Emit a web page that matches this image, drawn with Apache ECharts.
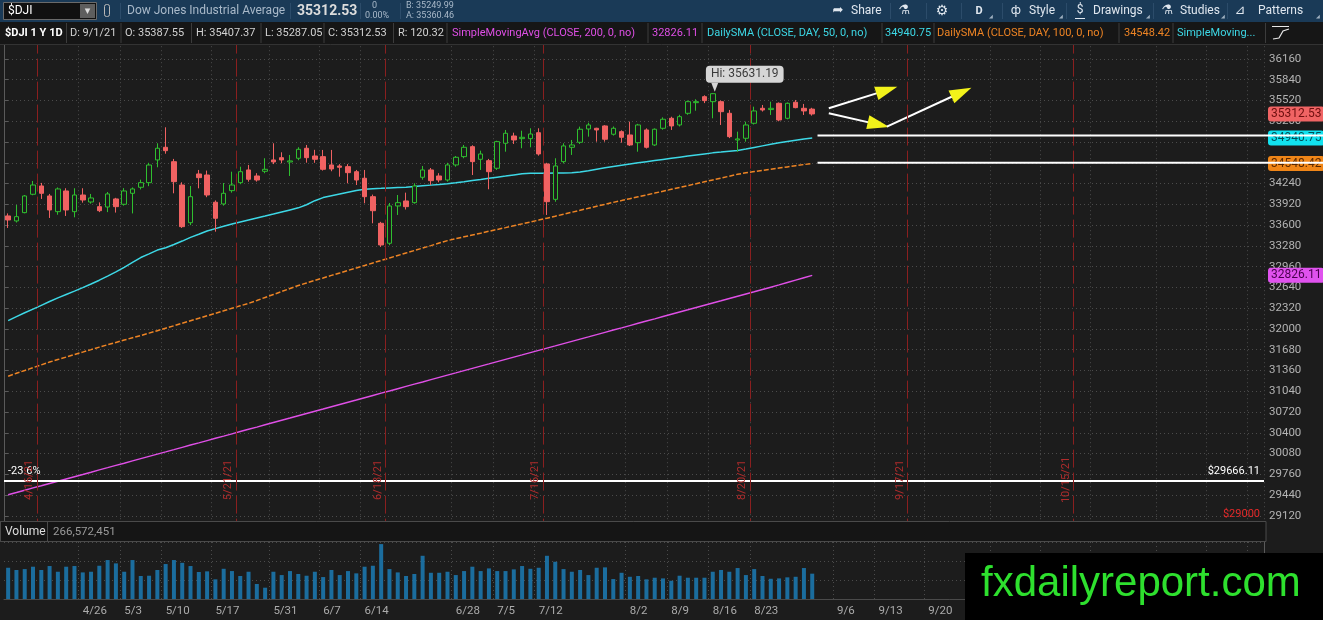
<!DOCTYPE html>
<html><head><meta charset="utf-8">
<script src="https://cdn.jsdelivr.net/npm/echarts/dist/echarts.min.js"></script>
<style>html,body{margin:0;padding:0;background:#1c1c1c;overflow:hidden}#c{width:1323px;height:620px}</style>
</head><body><div id="c"></div>
<script>
// ---------- DATA ----------
const dates = ['4/13','4/14','4/15','4/16','4/19','4/20','4/21','4/22','4/23','4/26','4/27','4/28','4/29','4/30',
'5/3','5/4','5/5','5/6','5/7','5/10','5/11','5/12','5/13','5/17','5/18','5/19','5/20','5/21','5/24','5/25','5/26','5/27',
'6/1','6/2','6/3','6/4','6/7','6/8','6/9','6/10','6/11','6/14','6/15','6/16','6/17','6/18','6/21','6/22','6/23','6/24','6/25',
'6/28','6/29','6/30','7/1','7/2','7/6','7/7','7/8','7/9','7/12','7/13','7/14','7/15','7/16','7/19','7/20','7/21','7/22','7/23',
'7/26','7/27','7/28','7/29','7/30','8/2','8/3','8/4','8/5','8/6','8/9','8/10','8/11','8/12','8/13','8/16','8/17','8/18','8/19','8/20',
'8/23','8/24','8/25','8/26','8/27','8/30','8/31','9/1'];
const futureDates = ['9/2','9/3','9/7','9/8','9/9','9/10','9/13','9/14','9/15','9/16','9/17','9/20','9/21','9/22','9/23','9/24',
'9/27','9/28','9/29','9/30','10/1','10/4','10/5','10/6','10/7','10/8','10/11','10/12','10/13','10/14','10/15','10/18','10/19','10/20',
'10/21','10/22','10/25','10/26','10/27','10/28','10/29','11/1','11/2','11/3','11/4','11/5','11/8','11/9','11/10','11/11','11/12',
'11/15','11/16','11/17'];
const opens = [33741,33664,33792,34075,34203,34049,33807,34126,33807,34064,
33956,33884,33879,34003,33921,34090,34183,34254,34604,34799,
34577,34218,33637,34388,34372,33952,33926,34131,34254,34450,
34357,34429,34604,34639,34573,34630,34784,34665,34655,34527,
34511,34501,34423,34322,34038,33628,33320,33895,33972,33946,
34337,34450,34357,34295,34527,34655,34809,34614,34593,34476,
34861,34973,34932,34932,35024,34542,33997,34578,34799,34876,
35081,35092,35128,35000,35040,34989,34870,35066,34835,35092,
35246,35143,35323,35487,35579,35502,35502,35323,34912,34938,
35169,35400,35380,35477,35246,35493,35400,35387.55];
const closes = [33679,33730,34049,34218,34090,33833,34157,33833,34064,33987,
34018,33822,34080,33884,34126,34157,34254,34526,34784,34747,
34269,33576,34038,34331,34064,33705,34090,34218,34423,34306,
34295,34460,34573,34604,34589,34768,34639,34614,34460,34465,
34491,34408,34295,34038,33822,33294,33895,33946,33884,34203,
34450,34285,34295,34527,34645,34799,34578,34696,34423,34886,
35015,34912,34953,35004,34696,33961,34511,34820,34835,35077,
35143,35066,34923,35092,34953,34835,35143,34799,35077,35231,
35128,35271,35502,35502,35518,35625,35348,34963,34928,35143,
35359,35374,35400,35220,35477,35410,35359,35312.53];
const lows = [33556,33640,33782,34060,34003,33710,33760,33741,33720,33946,
33930,33800,33800,33793,33900,33780,34150,34200,34491,34700,
34090,33556,33600,34167,34030,33499,33900,34100,34230,34269,
34270,34399,34540,34553,34357,34600,34562,34560,34440,34430,
34346,34244,34218,33936,33628,33263,33290,33756,33840,33930,
34300,34218,34260,34270,34500,34630,34372,34450,34152,34450,
34731,34850,34784,34799,34670,33756,33960,34550,34681,34850,
34963,34886,34886,34980,34870,34819,34731,34780,34820,35070,
35066,35120,35300,35363,35480,35246,35143,34940,34731,34886,
35150,35350,35297,35200,35230,35400,35297,35287.05];
const highs = [33780,33910,34064,34280,34250,34080,34180,34168,34168,34168,
34080,33950,34110,34020,34170,34180,34300,34560,34861,35107,
34620,34260,34203,34450,34440,33980,34249,34423,34500,34527,
34400,34630,34861,34722,34681,34800,34835,34760,34758,34758,
34540,34540,34450,34450,34070,33650,33941,34064,34100,34244,
34511,34480,34400,34560,34665,34835,34830,34747,34620,34900,
35066,35024,35055,35092,35092,34560,34630,34861,34912,35117,
35178,35100,35140,35120,35060,35194,35160,35090,35090,35260,
35270,35300,35520,35539,35600,35631.19,35520,35374,35040,35194,
35425,35451,35502,35490,35490,35528,35467,35407.37];
// volume in millions of shares
const volumes = [329,305,315,340,305,347,287,340,347,280,
287,350,410,375,287,410,242,245,305,368,
410,381,347,284,291,207,318,294,242,287,
158,119,287,252,294,263,245,287,231,305,
252,294,270,340,350,578,315,280,242,263,
455,276,276,287,252,294,340,294,322,294,
294,312,347,318,329,455,392,315,287,305,
252,329,333,210,276,234,242,207,224,217,
192,245,224,224,224,287,305,287,326,252,
315,242,213,217,228,234,326,266.572451];
const sma50 = [32128,32190,32249,32306,32364,32422,32478,32531,32582,32636,
32693,32751,32814,32879,32950,33026,33100,33157,33215,33252,
33302,33354,33411,33458,33510,33546,33582,33617,33649,33679,
33709,33739,33770,33802,33834,33866,33913,33976,34024,34051,
34078,34105,34132,34154,34160,34166,34173,34179,34185,34194,
34205,34216,34226,34237,34251,34268,34286,34303,34321,34338,
34355,34373,34390,34399,34399,34400,34402,34404,34407,34418,
34439,34461,34482,34503,34523,34541,34559,34577,34595,34612,
34629,34646,34663,34680,34697,34713,34725,34738,34751,34771,
34796,34821,34846,34868,34887,34906,34925,34940.75];
const sma100 = [31272,31316,31359,31403,31446,31490,31528,31566,31605,31643,
31681,31720,31756,31792,31828,31864,31899,31935,31973,32011,
32049,32088,32126,32164,32203,32241,32279,32318,32356,32394,
32439,32485,32531,32577,32623,32669,32709,32748,32786,32825,
32863,32902,32940,32978,33017,33055,33093,33132,33170,33208,
33246,33284,33323,33361,33391,33420,33448,33476,33505,33533,
33561,33590,33619,33648,33677,33707,33737,33768,33798,33829,
33859,33890,33920,33950,33978,34007,34036,34065,34093,34122,
34151,34180,34209,34238,34267,34296,34325,34354,34383,34407,
34425,34443,34461,34479,34497,34515,34533,34548.42];
const sma200 = [29445,29479,29514,29550,29584,29619,29653,29688,29723,29757,
29792,29828,29862,29897,29931,29966,30001,30036,30071,30105,
30140,30176,30211,30245,30280,30315,30349,30384,30419,30454,
30488,30523,30558,30593,30627,30662,30697,30732,30766,30801,
30836,30871,30905,30940,30975,31010,31044,31079,31114,31149,
31183,31218,31253,31288,31322,31357,31392,31427,31461,31496,
31531,31566,31600,31635,31670,31705,31739,31774,31809,31844,
31878,31913,31948,31983,32017,32052,32087,32122,32156,32191,
32226,32261,32295,32330,32365,32400,32434,32469,32504,32539,
32573,32608,32643,32678,32715,32752,32789,32826.11];
const yMin = 28800, yMax = 36480, yStep = 320;
const xTickLabels = ['4/26','5/3','5/10','5/17','5/31','6/7','6/14','6/28','7/5','7/12','8/2','8/9','8/16','8/23','9/6','9/13','9/20','10/4','10/11','10/18','11/1','11/8','11/15'];
const xTickDates  = ['4/26','5/3','5/10','5/19','6/1','6/9','6/16','7/1','7/9','7/16','8/2','8/9','8/16','8/23','9/7','9/14','9/22','10/4','10/12','10/20','11/1','11/9','11/16'];
const expiryDates = ['4/16','5/21','6/18','7/16','8/20','9/17','10/15'];
const expiryLabelBand = [29380, 29965];
const fibLevel = 29666.11, fibText = '-23.6%', fibLow = 29000;
const supportLevels = [34980, 34560];
const supportFrom = '9/2';
const arrows = [
  {from:['9/3',35400], to:['9/15',35680]},
  {from:['9/3',35323], to:['9/14',35148]},
  {from:['9/15',35117], to:['9/28',35647]}
];
const bid = 35249.99, ask = 35360.46;

// ---------- BUILD ----------
const cats = dates.concat(futureDates);
const N = cats.length;
const last = dates.length - 1;
const ohlc = dates.map((d,i)=>[opens[i],closes[i],lows[i],highs[i]]);
const tickSet = new Set(xTickDates);
const labelOf = {}; xTickDates.forEach((d,i)=>labelOf[d]=xTickLabels[i]);
const isTick = (i, v) => tickSet.has(v);
const dotted = {color:'#4b4b4b', type:[1,3], width:1};
const hiVal = Math.max(...highs), hiDate = dates[highs.indexOf(hiVal)];
const F = 'Roboto';
const C_MAG = '#df4fe6', C_CYAN = '#3dd8e6', C_ORG = '#ee8424', C_RED = '#f06262', C_GRN = '#2fbf2f';

function flag(v, bg, fg) {
  return {yAxis: v, symbol:'none', lineStyle:{width:0},
    label:{show:true, position:'end', distance:4, formatter: v.toFixed(2), backgroundColor:bg, color:fg,
      padding:[2,3,1,3], borderRadius:3, fontSize:12, fontFamily:F}};
}

const arrowItems = [];
arrows.forEach(a => {
  arrowItems.push([{coord:a.from, symbol:'none', lineStyle:{color:'#ffffff', width:2, type:'solid'}}, {coord:a.to, symbol:'none'}]);
  arrowItems.push([{coord:a.from, symbol:'none', lineStyle:{color:'#f2f21a', width:0}}, {coord:a.to, symbol:'triangle', symbolSize:[14,22]}]);
});

const expiryItems = [];
expiryDates.forEach(d => {
  const b = cats.indexOf(d) + 1;
  expiryItems.push({xAxis: b, lineStyle:{color:'#8a1f1f', width:1, type:[18,5]}});
  expiryItems.push([{coord:[b, expiryLabelBand[0]], lineStyle:{width:0},
      label:{show:true, position:'insideMiddleTop', distance:2, formatter: d + '/21', color:'#b02c2c', fontSize:11, fontFamily:F}},
    {coord:[b, expiryLabelBand[1]]}]);
});

// ---------- GRAPHIC (toolbars, panels) ----------
const G = [];
const T = (x,y,text,fill,font,align) => G.push({type:'text', z:101, x, y, style:{text, fill, font: font || '11px Roboto', textAlign: align||'left', textVerticalAlign:'middle'}});
const L = (x1,y1,x2,y2,stroke,w) => G.push({type:'line', z:101, shape:{x1,y1,x2,y2}, style:{stroke, lineWidth:w||1}});
const R = (x,y,w,h,fill,stroke,r) => G.push({type:'rect', z:100, shape:{x,y,width:w,height:h,r:r||0}, style:{fill:fill||'none', stroke:stroke||null, lineWidth:1}});

// row 1
R(0,0,1323,22,'#1a3a57');
R(3.5,2.5,93,17,'#111','#6a6a6a');
T(8,11,'$DJI','#ffffff','12px Roboto');
R(80,4,15,14,'#5e5e5e');
T(87.5,11,'▾','#dddddd','11px "DejaVu Sans"','center');
R(104.5,4.5,5,12,null,'#b8b8b8',2);
T(127,11,'Dow Jones Industrial Average','#a9b9c9','12px Roboto');
[120,290,360,400].forEach(x=>L(x+0.5,3,x+0.5,19,'#2c4c6a'));
T(297,11,closes[last].toFixed(2),'#dcdcdc','bold 14px Roboto');
T(372,6,'0','#a9b9c9','9px Roboto');
T(365,16,'0.00%','#a9b9c9','9px Roboto');
T(406,6,'B: '+bid.toFixed(2),'#a9b9c9','9px Roboto');
T(406,16,'A: '+ask.toFixed(2),'#a9b9c9','9px Roboto');
[890,926,961,1002,1066,1153,1227].forEach(x=>L(x+0.5,3,x+0.5,19,'#2c4c6a'));
T(838,11,'➦','#e0e7ef','13px "DejaVu Sans"','center');
T(851,11,'Share','#e0e7ef','12px Roboto');
T(904,11,'⚗','#e0e7ef','13px "DejaVu Sans"','center');
T(942,11,'⚙','#e0e7ef','14px "DejaVu Sans"','center');
T(979,11,'D','#e0e7ef','bold 11px Roboto','center');
T(1016,11,'ф','#e0e7ef','12px "DejaVu Sans"','center');
T(1029,11,'Style','#e0e7ef','12px Roboto');
T(1080,10,'$','#e0e7ef','12px Roboto','center');
L(1075,18.5,1085,18.5,'#e0e7ef');
T(1093,11,'Drawings','#e0e7ef','12px Roboto');
T(1167,11,'⚗','#e0e7ef','13px "DejaVu Sans"','center');
T(1180,11,'Studies','#e0e7ef','12px Roboto');
T(1240,11,'⊿','#e0e7ef','13px "DejaVu Sans"','center');
T(1258,11,'Patterns','#e0e7ef','12px Roboto');
[991,1061,1148,1223,1318].forEach(x=>T(x,17,'◢','#9fb0c0','5px "DejaVu Sans"','center'));

// row 2
R(0,22,1323,22,'#161616');
L(0,44.5,1323,44.5,'#333333');
[66.5,121,191.5,261,324,393.5,447,648,702,882,934,1119,1173,1265.5].forEach(x=>L(x,23,x,43,'#3c3c3c'));
T(5,33,'$DJI 1 Y 1D','#ffffff','bold 11px Roboto');
T(70,33,'D: 9/1/21','#d2d2d2');
T(125,33,'O: '+opens[last].toFixed(2),'#d2d2d2');
T(196,33,'H: '+highs[last].toFixed(2),'#d2d2d2');
T(265,33,'L: '+lows[last].toFixed(2),'#d2d2d2');
T(328,33,'C: '+closes[last].toFixed(2),'#d2d2d2');
T(398,33,'R: '+(highs[last]-lows[last]).toFixed(2),'#d2d2d2');
T(452,33,'SimpleMovingAvg (CLOSE, 200, 0, no)',C_MAG);
T(652,33,sma200[last].toFixed(2),C_MAG);
T(707,33,'DailySMA (CLOSE, DAY, 50, 0, no)',C_CYAN);
T(885,33,sma50[last].toFixed(2),C_CYAN);
T(937,33,'DailySMA (CLOSE, DAY, 100, 0, no)',C_ORG);
T(1124,33,sma100[last].toFixed(2),C_ORG);
T(1177,33,'SimpleMoving...',C_CYAN);
L(1272,26.5,1289,26.5,'#e8e8e8');
G.push({type:'polyline', z:101, shape:{points:[[1273,39],[1279,38],[1283,31],[1289,29]]}, style:{stroke:'#e8e8e8', lineWidth:1.2, fill:'none'}});

// volume header
R(0,521,1323,21,'#1c1c1c');
R(0.5,521.5,1265.5,20,'#151515','#4a4a4a');
R(0.5,521.5,47,20,null,'#4a4a4a');
T(5,532,'Volume','#dddddd','12px Roboto');
T(53,532,Math.round(volumes[last]*1e6).toLocaleString('en-US'),'#9a9a9a','11.5px Roboto');

// watermark
R(965,553,358,67,'#000000');
T(981,584,'fxdailyreport.com','#2ee02e','42px "Liberation Sans"');

// ---------- OPTION ----------
const option = {
  backgroundColor:'#1c1c1c',
  animation:false,
  grid:[
    {left:4, top:38.2, width:1260, height:498.4, outerBoundsMode:'none'},
    {left:4, top:542, width:1260, height:57, outerBoundsMode:'none'}
  ],
  xAxis:[
    {type:'category', gridIndex:0, data:cats, boundaryGap:true,
      axisLine:{show:false}, axisTick:{show:false}, axisLabel:{show:false},
      splitLine:{show:true, interval:isTick, lineStyle:dotted}},
    {type:'value', gridIndex:0, min:0, max:N, show:false, splitLine:{show:false}},
    {type:'category', gridIndex:1, data:cats, boundaryGap:true,
      axisLine:{show:true, lineStyle:{color:'#4a4a4a'}}, axisTick:{show:false},
      axisLabel:{interval:isTick, formatter:v=>labelOf[v]||'', color:'#ababab', fontSize:11.5, fontFamily:F, align:'left', margin:6},
      splitLine:{show:true, interval:isTick, lineStyle:dotted}}
  ],
  yAxis:[
    {type:'value', gridIndex:0, position:'right', min:yMin, max:yMax, interval:yStep,
      axisLine:{show:true, lineStyle:{color:'#5a5a5a'}}, axisTick:{show:true, length:4, lineStyle:{color:'#5a5a5a'}},
      axisLabel:{color:'#b3b3b3', fontSize:11.5, fontFamily:F, margin:5, formatter:v=> v < 29000 ? '' : String(v)},
      splitLine:{show:true, lineStyle:dotted}},
    {type:'value', gridIndex:1, position:'right', min:0, max:600, interval:200,
      axisLine:{show:true, lineStyle:{color:'#5a5a5a'}}, axisTick:{show:false}, axisLabel:{show:false},
      splitLine:{show:true, lineStyle:dotted}}
  ],
  series:[
    {type:'line', name:'SMA200', xAxisIndex:0, yAxisIndex:0, data:sma200, showSymbol:false, symbol:'none',
      lineStyle:{color:C_MAG, width:1.4}, z:3,
      markLine:{silent:true, symbol:'none', data:[flag(sma200[last], '#e052ee', '#4a004f')]}},
    {type:'line', name:'SMA100', xAxisIndex:0, yAxisIndex:0, data:sma100, showSymbol:false, symbol:'none',
      lineStyle:{color:C_ORG, width:1.5, type:[5,2]}, z:3,
      markLine:{silent:true, symbol:'none', data:[flag(sma100[last], '#f08618', '#5a2800')]}},
    {type:'line', name:'SMA50', xAxisIndex:0, yAxisIndex:0, data:sma50, showSymbol:false, symbol:'none',
      lineStyle:{color:C_CYAN, width:1.5}, z:3,
      markLine:{silent:true, symbol:'none', data:[flag(sma50[last], '#12e2ef', '#00505a')]}},
    {type:'candlestick', name:'$DJI', xAxisIndex:0, yAxisIndex:0, data:ohlc, barWidth:5, z:4,
      itemStyle:{color:'#1c1c1c', color0:C_RED, borderColor:C_GRN, borderColor0:C_RED, borderWidth:1},
      markPoint:{silent:true, data:[{coord:[hiDate, hiVal], value:hiVal, symbol:'triangle', symbolRotate:180,
        symbolSize:[7,9], symbolOffset:[2,-6], itemStyle:{color:'#d6d6d6'},
        label:{show:true, position:'inside', offset:[30,-13], formatter:'Hi: '+hiVal.toFixed(2), color:'#3a3a3a',
          backgroundColor:'#d6d6d6', padding:[3,5,2,5], borderRadius:4, fontSize:12, fontFamily:F}}]},
      markLine:{silent:true, symbol:'none', data:[flag(closes[last], '#f06464', '#6e0f0f')]}},
    {type:'line', name:'annotations', xAxisIndex:0, yAxisIndex:0, data:[], z:5,
      markLine:{silent:true, symbol:['none','none'], label:{show:false}, data:[
        {yAxis:fibLevel, lineStyle:{color:'#ffffff', width:2, type:'solid'},
          label:{show:true, position:'insideEndTop', formatter:'$'+fibLevel.toFixed(2), color:'#ffffff', fontSize:11, fontFamily:F, distance:4}},
        {yAxis:fibLevel, lineStyle:{width:0},
          label:{show:true, position:'insideStartTop', formatter:fibText, color:'#ffffff', fontSize:11, fontFamily:F, distance:4}},
        {yAxis:fibLow, lineStyle:{width:0},
          label:{show:true, position:'insideEndTop', formatter:'$'+fibLow, color:'#e42a2a', fontSize:11, fontFamily:F, distance:4}}
      ].concat(arrowItems)}},
    {type:'line', name:'expiry', xAxisIndex:1, yAxisIndex:0, data:[], z:2,
      markLine:{silent:true, symbol:['none','none'], label:{show:false}, data:expiryItems}},
    {type:'bar', name:'Volume', xAxisIndex:2, yAxisIndex:1, data:volumes, barWidth:4,
      itemStyle:{color:'#1b6d9e'}}
  ],
  graphic:{elements:G}
};

const chart = echarts.init(document.getElementById('c'), null, {renderer:'canvas'});
chart.setOption(option);
const extra = supportLevels.map(v => {
  const p = chart.convertToPixel({seriesIndex:3}, [supportFrom, v]);
  return {type:'line', z:102, shape:{x1:p[0]-3, y1:p[1], x2:1323, y2:p[1]}, style:{stroke:'#ffffff', lineWidth:2}};
});
chart.setOption({graphic:{elements:G.concat(extra)}});
</script>
</body></html>
